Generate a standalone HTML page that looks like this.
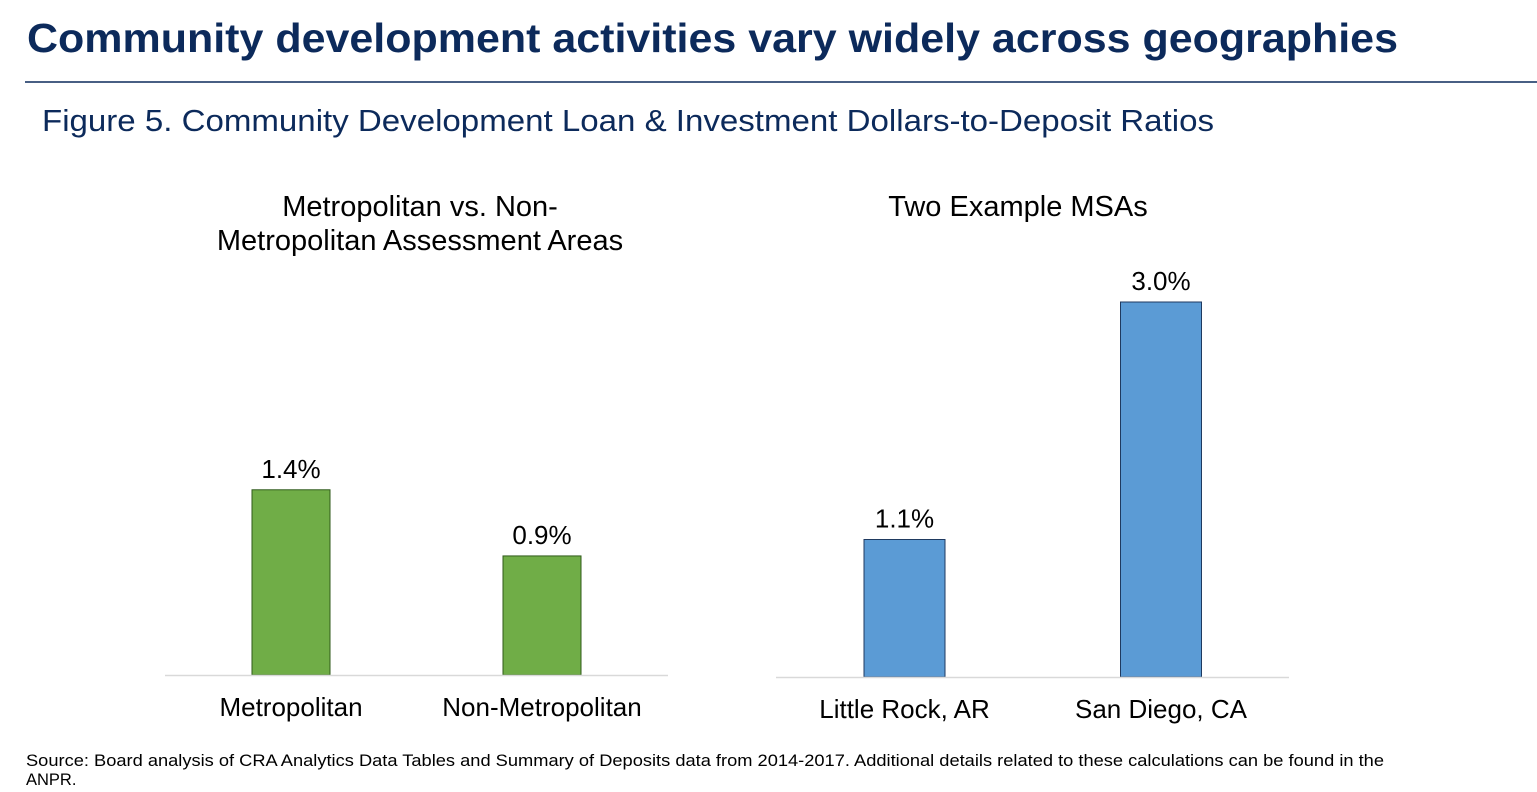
<!DOCTYPE html>
<html><head><meta charset="utf-8"><style>
html,body{margin:0;padding:0;background:#fff;}
svg{display:block;font-family:"Liberation Sans",Arial,sans-serif;}
</style></head><body>
<svg id="c" width="1537" height="792" viewBox="0 0 1537 792">
<text x="27" y="52" font-size="41" font-weight="bold" fill="#0c2a5b" textLength="1371" lengthAdjust="spacingAndGlyphs">Community development activities vary widely across geographies</text>
<line x1="25" y1="82" x2="1537" y2="82" stroke="#0c2a5b" stroke-width="1.5"/>
<text x="42" y="131" font-size="31" fill="#0c2a5b" textLength="1172" lengthAdjust="spacingAndGlyphs">Figure 5. Community Development Loan &amp; Investment Dollars-to-Deposit Ratios</text>
<text x="420" y="216" font-size="29" text-anchor="middle" fill="#000">Metropolitan vs. Non-</text>
<text x="420" y="250" font-size="29" text-anchor="middle" fill="#000">Metropolitan Assessment Areas</text>
<text x="1018" y="216" font-size="29" text-anchor="middle" fill="#000">Two Example MSAs</text>
<text x="26" y="766" font-size="16.5" fill="#000" textLength="1358" lengthAdjust="spacingAndGlyphs">Source: Board analysis of CRA Analytics Data Tables and Summary of Deposits data from 2014-2017. Additional details related to these calculations can be found in the</text>
<text x="26" y="785" font-size="16.5" fill="#000">ANPR.</text>
<g id="left"></g><g id="right"></g>
</svg>
<script>
const leftCategories=["Metropolitan","Non-Metropolitan"];
const leftValues=[1.4,0.9];
const rightCategories=["Little Rock, AR","San Diego, CA"];
const rightValues=[1.1,3.0];
const NS="http://www.w3.org/2000/svg";
function mk(tag,attrs,parent){const e=document.createElementNS(NS,tag);for(const k in attrs)e.setAttribute(k,attrs[k]);parent.appendChild(e);return e;}
function chart(gid,cats,vals,o){
  const g=document.getElementById(gid);
  const y=v=>o.base-v*o.scale;
  const bw=o.bw;
  cats.forEach((c,i)=>{
    const cx=o.x0+i*o.step;
    const r=mk('rect',{x:cx-bw/2,y:y(vals[i]),width:bw,height:o.base-y(vals[i]),fill:o.fill,stroke:o.stroke,'stroke-width':1},g);
    
    
    const t=mk('text',{x:cx,y:y(vals[i])-12,'font-size':26,'text-anchor':'middle',fill:'#000'},g);
    t.textContent=vals[i].toFixed(1)+'%';
    
    
    const l=mk('text',{x:cx,y:o.labY,'font-size':26,'text-anchor':'middle',fill:'#000'},g);
    l.textContent=c;
    
    
  });
  const ax=mk('line',{x1:o.ax1,x2:o.ax2,y1:o.base+0.5,y2:o.base+0.5,stroke:'#d9d9d9','stroke-width':1.5},g);
  
  
}
chart('left',leftCategories,leftValues,{base:675,scale:132.3,x0:291,step:251,bw:78,fill:'#70ad47',stroke:'#2f5a1a',labY:716,ax1:165,ax2:668});
chart('right',rightCategories,rightValues,{base:677,scale:125,x0:904.5,step:256.5,bw:81,fill:'#5b9bd5',stroke:'#1f3a60',labY:718,ax1:776,ax2:1289});
</script>
</body></html>
